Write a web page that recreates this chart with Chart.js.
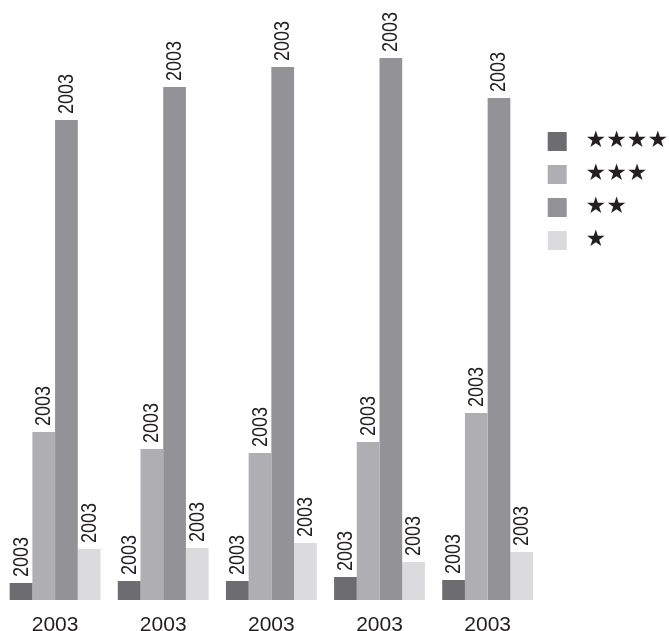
<!DOCTYPE html>
<html>
<head>
<meta charset="utf-8">
<script src="https://cdn.jsdelivr.net/npm/chart.js@4.4.1/dist/chart.umd.min.js"></script>
<style>
  html, body { margin: 0; padding: 0; background: #fff; }
  #wrap { width: 669px; height: 631px; position: relative; }
</style>
</head>
<body>
<div id="wrap"><canvas id="starChart"></canvas></div>
<script>
// categories along the x axis
const categories = ['2003', '2003', '2003', '2003', '2003'];

// series (arbitrary units)
const seriesNames = ['★★★★', '★★★', '★★', '★'];
const fourStars  = [17, 19, 19, 23, 20];
const threeStars = [168, 151, 147, 158, 187];
const twoStars   = [480, 513, 533, 542, 502];
const oneStar    = [51, 52, 57, 38, 48];
const barText    = '2003';

const barColors = ['#6d6d71', '#afafb3', '#939397', '#dbdbdd'];

// rotated text above each bar
const barLabelPlugin = {
  id: 'barLabels',
  afterDatasetsDraw(chart) {
    const ctx = chart.ctx;
    chart.data.datasets.forEach(function(ds, i) {
      const meta = chart.getDatasetMeta(i);
      meta.data.forEach(function(bar) {
        ctx.save();
        ctx.translate(bar.x, bar.y - 6);
        ctx.rotate(-Math.PI / 2);
        ctx.scale(0.82, 1);
        ctx.font = '22px "Liberation Sans", Arial, sans-serif';
        ctx.fillStyle = '#231f20';
        ctx.textAlign = 'left';
        ctx.textBaseline = 'alphabetic';
        ctx.fillText(barText, 0, 6.5);
        ctx.restore();
      });
    });
  }
};

const ctx = document.getElementById('starChart').getContext('2d');
const chart = new Chart(ctx, {
  type: 'bar',
  data: {
    labels: categories,
    datasets: [
      { label: seriesNames[0], data: fourStars,  backgroundColor: barColors[0] },
      { label: seriesNames[1], data: threeStars, backgroundColor: barColors[1] },
      { label: seriesNames[2], data: twoStars,   backgroundColor: barColors[2] },
      { label: seriesNames[3], data: oneStar,    backgroundColor: barColors[3] }
    ]
  },
  options: {
    responsive: true,
    maintainAspectRatio: false,
    animation: false,
    layout: { padding: { top: 0, bottom: -20, left: 1, right: -9 } },
    datasets: {
      bar: { categoryPercentage: 0.84, barPercentage: 1, borderWidth: 0 }
    },
    scales: {
      x: {
        grid: { display: false, drawTicks: false },
        border: { display: false },
        ticks: {
          color: '#231f20',
          padding: 15,
          font: { family: '"Liberation Sans", Arial, sans-serif', size: 21, lineHeight: 1 }
        }
      },
      y: { display: false, min: 0, max: 600 }
    },
    plugins: {
      tooltip: { enabled: false },
      legend: {
        position: 'right',
        align: 'start',
        title: { display: true, text: ' ', font: { size: 10, lineHeight: 1 }, padding: { top: 114, bottom: 0 } },
        labels: {
          boxWidth: 19,
          boxHeight: 19,
          padding: 6,
          color: '#231f20',
          font: { family: '"DejaVu Sans", sans-serif', size: 23, lineHeight: 27 / 23 },
          generateLabels: function(chart) {
            const items = Chart.defaults.plugins.legend.labels.generateLabels(chart);
            items.forEach(function(it) {
              // one-line array so the row height follows the line height
              it.text = [' ' + it.text];
              it.lineWidth = 0;
            });
            return items;
          }
        }
      }
    }
  },
  plugins: [barLabelPlugin]
});
</script>
</body>
</html>
